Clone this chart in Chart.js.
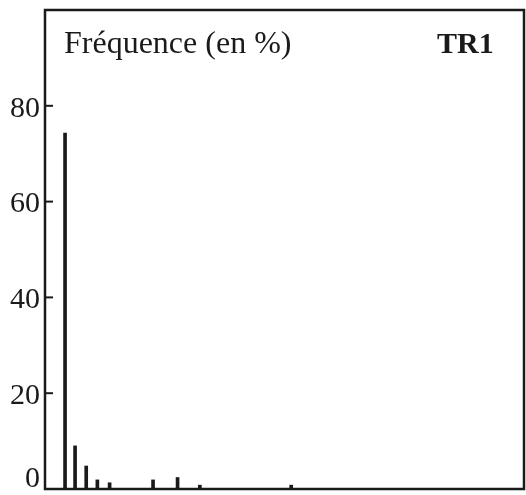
<!DOCTYPE html>
<html>
<head>
<meta charset="utf-8">
<script src="https://cdn.jsdelivr.net/npm/chart.js@4"></script>
<style>
  html, body { margin: 0; padding: 0; background: #fff; }
  #wrap { width: 526px; height: 495px; }
</style>
</head>
<body>
<div id="wrap"><canvas id="chart"></canvas></div>
<script>
  // positions on the horizontal axis
  const classes = [1.8, 2.7, 3.7, 4.7, 5.8, 9.7, 11.9, 13.9, 22.1];
  // frequency in %
  const frequencies = [74.3, 9.0, 4.8, 1.9, 1.3, 1.9, 2.4, 0.8, 0.8];
  const yTicks = [0, 20, 40, 60, 80];
  const titleText = "Fréquence (en %)";
  const panelText = "TR1";

  const ink = "#1a1a1a";

  const framePlugin = {
    id: "frame",
    afterDraw(chart) {
      const ctx = chart.ctx;
      const a = chart.chartArea;
      const y = chart.scales.y;
      ctx.save();
      ctx.strokeStyle = ink;
      ctx.lineWidth = 2.5;
      ctx.strokeRect(a.left, a.top, a.right - a.left, a.bottom - a.top);

      // inward tick marks
      ctx.lineWidth = 2;
      yTicks.forEach((v) => {
        if (v === 0) {
          return;
        }
        const py = y.getPixelForValue(v);
        ctx.beginPath();
        ctx.moveTo(a.left, py);
        ctx.lineTo(a.left + 8, py);
        ctx.stroke();
      });

      ctx.fillStyle = ink;
      ctx.textBaseline = "alphabetic";
      ctx.textAlign = "left";
      ctx.font = "32px 'Liberation Serif', serif";
      ctx.fillText(titleText, a.left + 19, a.top + 43);
      ctx.font = "bold 30px 'Liberation Serif', serif";
      ctx.fillText(panelText, 437, a.top + 43);
      ctx.restore();
    }
  };

  new Chart(document.getElementById("chart"), {
    type: "bar",
    data: {
      datasets: [
        {
          data: classes.map((c, i) => ({ x: c, y: frequencies[i] })),
          backgroundColor: ink,
          borderWidth: 0,
          barThickness: 3
        }
      ]
    },
    options: {
      animation: false,
      responsive: true,
      maintainAspectRatio: false,
      layout: {
        padding: { top: 10, right: 2, bottom: 6, left: 0 }
      },
      scales: {
        x: {
          type: "linear",
          display: false,
          offset: false,
          grid: { offset: false },
          min: 0,
          max: 43
        },
        y: {
          min: 0,
          max: 100,
          afterFit(scale) {
            scale.width = 45;
            scale.paddingTop = 0;
            scale.paddingBottom = 0;
          },
          afterBuildTicks(scale) {
            scale.ticks = yTicks.map((v) => ({ value: v }));
          },
          border: { display: false },
          grid: { display: false, drawTicks: false },
          ticks: {
            padding: 5,
            labelOffset: 3,
            color: ink,
            // the 0 sits above the baseline, as in the source figure
            callback: (v) => (v === 0 ? ["0", ""] : String(v)),
            font: { family: "'Liberation Serif', serif", size: 30, lineHeight: 0.85 }
          }
        }
      },
      plugins: {
        legend: { display: false },
        tooltip: { enabled: false }
      }
    },
    plugins: [framePlugin]
  });
</script>
</body>
</html>
